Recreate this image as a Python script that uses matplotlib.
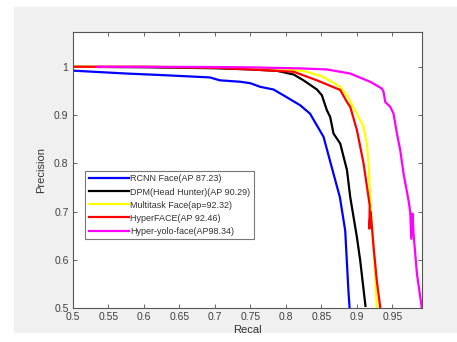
import numpy as np
import matplotlib
matplotlib.use("Agg")
import matplotlib.pyplot as plt
from matplotlib.patches import Rectangle

# precision-recall curves
rcnn_recall = [0.5, 0.576, 0.623, 0.693, 0.707, 0.736, 0.75, 0.764, 0.7825, 0.7966,
               0.820, 0.834, 0.853, 0.862, 0.876, 0.8835, 0.888, 0.8896]
rcnn_prec = [0.992, 0.986, 0.983, 0.978, 0.972, 0.969, 0.966, 0.9585, 0.953, 0.941,
             0.9205, 0.903, 0.855, 0.806, 0.730, 0.661, 0.537, 0.502]

dpm_recall = [0.5, 0.6, 0.7, 0.75, 0.7873, 0.811, 0.8248, 0.8437, 0.8507, 0.8577,
              0.8624, 0.867, 0.8765, 0.886, 0.8906, 0.900, 0.9046, 0.912]
dpm_prec = [1.0, 0.999, 0.997, 0.9945, 0.9917, 0.984, 0.972, 0.953, 0.941, 0.910,
            0.896, 0.862, 0.841, 0.786, 0.730, 0.647, 0.599, 0.505]

multi_recall = [0.5, 0.6, 0.7, 0.8, 0.8296, 0.853, 0.8765, 0.886, 0.900, 0.9093,
                0.914, 0.9163, 0.9187, 0.921, 0.9244, 0.928]
multi_prec = [1.0, 1.0, 0.999, 0.996, 0.9897, 0.979, 0.9585, 0.941, 0.903, 0.876,
              0.841, 0.800, 0.730, 0.675, 0.606, 0.502]

hyper_recall = [0.5, 0.6, 0.7, 0.75, 0.811, 0.8437, 0.8765, 0.886, 0.8906, 0.900,
                0.9093, 0.9163, 0.918, 0.9175, 0.919, 0.9205, 0.9234, 0.928, 0.9328]
hyper_prec = [1.0, 1.0, 0.998, 0.9945, 0.9897, 0.972, 0.952, 0.927, 0.917, 0.869,
              0.800, 0.730, 0.713, 0.665, 0.70, 0.68, 0.627, 0.557, 0.502]

yolo_recall = [0.534, 0.6, 0.7, 0.75, 0.820, 0.8577, 0.8906, 0.9187, 0.9328, 0.9352,
               0.9375, 0.9399, 0.947, 0.9515, 0.9563, 0.961, 0.9656, 0.9727, 0.975,
               0.9765, 0.9783, 0.9797, 0.9845, 0.9915]
yolo_prec = [1.0, 1.0, 0.9995, 0.9988, 0.9967, 0.9945, 0.986, 0.969, 0.957, 0.955,
             0.948, 0.927, 0.917, 0.903, 0.862, 0.827, 0.779, 0.723, 0.699,
             0.644, 0.696, 0.654, 0.571, 0.499]

labels = ["RCNN Face(AP 87.23)", "DPM(Head Hunter)(AP 90.29)", "Multitask Face(ap=92.32)",
          "HyperFACE(AP 92.46)", "Hyper-yolo-face(AP98.34)"]
colors = ["#0000ff", "#000000", "#ffff00", "#ff0000", "#ff00ff"]

plt.rcParams['font.family'] = ['Liberation Sans', 'DejaVu Sans']

W, H = 457, 342
fig = plt.figure(figsize=(W / 100, H / 100), dpi=100, facecolor='white')
# MATLAB style grey figure panel
fig.patches.append(Rectangle((14 / W, 0.0), 1 - 14 / W, (H - 7) / H - 9 / H + 9 / H - 0.0,
                             transform=fig.transFigure, facecolor='#f0f0f0',
                             edgecolor='none', zorder=-10))
fig.patches[-1].set_bounds(14 / W, 9 / H, 1 - 14 / W, (H - 7 - 9) / H)

ax = fig.add_axes([72.7 / W, (H - 308.3) / H, (422.3 - 72.7) / W, (308.3 - 32.3) / H])
ax.set_facecolor('white')

series = [(rcnn_recall, rcnn_prec), (dpm_recall, dpm_prec), (multi_recall, multi_prec),
          (hyper_recall, hyper_prec), (yolo_recall, yolo_prec)]
for (r, p), c, lab in zip(series, colors, labels):
    ax.plot(r, p, color=c, linewidth=1.6, label=lab)

ax.set_xlim(0.5, 0.992)
ax.set_ylim(0.5, 1.0714)
ax.set_xticks(np.arange(0.5, 0.96, 0.05))
ax.set_xticklabels(["0.5", "0.55", "0.6", "0.65", "0.7", "0.75", "0.8", "0.85", "0.9", "0.95"])
ax.set_yticks([0.5, 0.6, 0.7, 0.8, 0.9, 1.0])
ax.set_yticklabels(["0.5", "0.6", "0.7", "0.8", "0.9", "1"])

grey = '#4d4d4d'
ax.tick_params(direction='in', top=True, right=True, length=3, width=0.6,
               labelsize=7.5, colors=grey, labelcolor='#404040', pad=3)
for s in ax.spines.values():
    s.set_color('#555555')
    s.set_linewidth(0.8)

ax.set_xlabel("Recal", fontsize=8, color='#333333', labelpad=2)
ax.set_ylabel("Precision", fontsize=8, color='#333333', labelpad=6)

leg = ax.legend(loc='lower left', bbox_to_anchor=(0.035, 0.25), fontsize=6.5,
                frameon=True, fancybox=False, handlelength=4.5, handletextpad=0.1,
                borderpad=0.4, labelspacing=0.45, borderaxespad=0)
leg.get_frame().set_edgecolor('#555555')
leg.get_frame().set_linewidth(0.8)
for t in leg.get_texts():
    t.set_color('#333333')

fig.savefig("out.png", dpi=100, facecolor='white')
